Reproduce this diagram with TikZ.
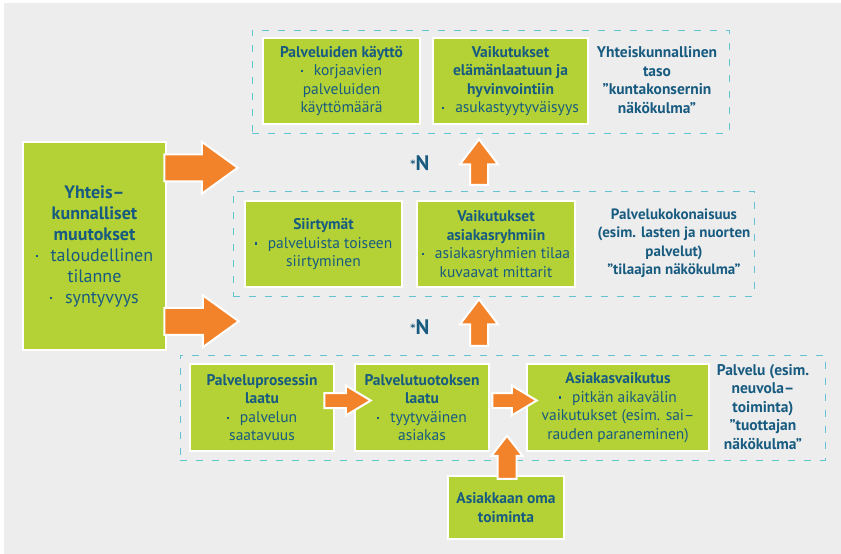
\documentclass[tikz,border=0pt]{standalone}
\usepackage{fontspec}
\setmainfont{PT Sans}
\newfontfamily\symfont{DejaVu Sans}
\usetikzlibrary{calc}

\definecolor{bg}{HTML}{EDEDED}
\definecolor{lime}{HTML}{B4D235}
\definecolor{orng}{HTML}{F3832B}
\definecolor{ink}{HTML}{185B80}
\definecolor{dashcol}{HTML}{62C3D3}

% small square bullet in front of an item
\newcommand\bul{\raisebox{0.22em}{\rule{2.2pt}{2.2pt}}\hspace{0.7em}}
% raised asterisk in front of the aggregation letter
\newcommand\aster{\raisebox{3pt}{\symfont\fontsize{10}{10}\selectfont *}}

% horizontal block arrow: tail point, tip point, shaft half height, head half height, head length
\newcommand\rarrow[5]{%
  \draw[blockarrow] let \p1=#1, \p2=#2 in
    (\x1,\y1+#3pt) -- (\x2-#5pt,\y1+#3pt) -- (\x2-#5pt,\y1+#4pt) -- (\x2,\y1)
    -- (\x2-#5pt,\y1-#4pt) -- (\x2-#5pt,\y1-#3pt) -- (\x1,\y1-#3pt) -- cycle;}

% upward block arrow: tail point, tip point, shaft half width, head half width, head length
\newcommand\uarrow[5]{%
  \draw[blockarrow] let \p1=#1, \p2=#2 in
    (\x1-#3pt,\y1) -- (\x1-#3pt,\y2-#5pt) -- (\x1-#4pt,\y2-#5pt) -- (\x1,\y2)
    -- (\x1+#4pt,\y2-#5pt) -- (\x1+#3pt,\y2-#5pt) -- (\x1+#3pt,\y1) -- cycle;}

\begin{document}
\begin{tikzpicture}[x=1pt,y=-1pt,
  gbox/.style={fill=lime, draw=white, line width=2.5pt, text=ink, align=center,
    inner sep=0pt, font=\fontsize{15.5}{18.5}\selectfont},
  level/.style={draw=dashcol, line width=0.9pt, dash pattern=on 7pt off 9pt, inner sep=0pt},
  note/.style={text=ink, align=center, font=\bfseries\fontsize{15.5}{18.5}\selectfont},
  blockarrow/.style={fill=orng, draw=white, line width=2pt, line join=miter},
  star/.style={text=ink, font=\bfseries\fontsize{21}{21}\selectfont}]

\useasboundingbox (0,0) rectangle (841,554);
\fill[white] (0,0) rectangle (841,554);
\fill[bg] (4,3) rectangle (841,554);

% dashed level frames
\node[level, minimum width=477pt, minimum height=103pt] (top) at (490.5,81.5) {};
\node[level, minimum width=521pt, minimum height=105pt] (mid) at (493.5,243.5) {};
\node[level, minimum width=645pt, minimum height=105pt] (bot) at (502.5,407.5) {};

% left driver box
\node[gbox, minimum width=143pt, minimum height=208pt, font=\fontsize{18}{21}\selectfont] (yk) at (94.5,246)
  {\textbf{Yhteis–}\\\textbf{kunnalliset}\\\textbf{muutokset}\\\bul taloudellinen\\tilanne\\\bul syntyvyys};

% community level
\node[gbox, minimum width=157pt, minimum height=86pt] (pk) at (341.5,81)
  {\textbf{Palveluiden käyttö}\\\bul korjaavien\\palveluiden\\käyttömäärä};
\node[gbox, minimum width=155pt, minimum height=86pt] (vh) at (510.5,81)
  {\textbf{Vaikutukset}\\\textbf{elämänlaatuun ja}\\\textbf{hyvinvointiin}\\\bul asukastyytyväisyys};
\node[note] (t1) at (657,80) {Yhteiskunnallinen\\taso\\”kuntakonsernin\\näkökulma”};

% service entity level
\node[gbox, minimum width=157pt, minimum height=86pt] (st) at (323.5,244)
  {\textbf{Siirtymät}\\\bul palveluista toiseen\\siirtyminen};
\node[gbox, minimum width=158pt, minimum height=86pt] (va) at (496,244)
  {\textbf{Vaikutukset}\\\textbf{asiakasryhmiin}\\\bul asiakasryhmien tilaa\\kuvaavat mittarit};
\node[note, font=\bfseries\fontsize{15}{18.5}\selectfont] (t2) at (674,243)
  {Palvelukokonaisuus\\(esim. lasten ja nuorten\\palvelut)\\”tilaajan näkökulma”};

% service level
\node[gbox, minimum width=144pt, minimum height=87pt] (pp) at (262,407.5)
  {\textbf{Palveluprosessin}\\\textbf{laatu}\\\bul palvelun\\saatavuus};
\node[gbox, minimum width=134pt, minimum height=87pt] (pt) at (422,407.5)
  {\textbf{Palvelutuotoksen}\\\textbf{laatu}\\\bul tyytyväinen\\asiakas};
\node[gbox, minimum width=182pt, minimum height=87pt] (av) at (618,407.5)
  {\textbf{Asiakasvaikutus}\\\bul pitkän aikavälin\\vaikutukset (esim. sai–\\rauden paraneminen)};
\node[note] (t3) at (763,407) {Palvelu (esim.\\neuvola–\\toiminta)\\”tuottajan\\näkökulma”};

\node[gbox, minimum width=116pt, minimum height=63pt] (ao) at (506,507.5)
  {\textbf{Asiakkaan oma}\\\textbf{toiminta}};

% aggregation marks
\node[star] (n1) at (420,163) {\aster N};
\node[star] (n2) at (420,327) {\aster N};

% arrows from the driver box
\rarrow{($(yk.north east)+(-3,27)$)}{($(st.west)+(-6,0)$)}{13.5}{26}{36}
\rarrow{($(yk.south east)+(-3,-30)$)}{($(st.west)+(-5,0)$)}{13.5}{26}{36}

% arrows along the service chain
\rarrow{($(pp.east)+(-11,-7)$)}{($(pt.west)+(17,0)$)}{7.5}{15}{25}
\rarrow{($(pt.east)+(2,-7)$)}{($(av.west)+(11,0)$)}{7.5}{15}{25}

% arrows between levels
\coordinate (aotip) at ($(ao.north)+(1,-39)$);
\uarrow{($(ao.north)+(1,4)$)}{(aotip)}{9.5}{15.5}{20}
\uarrow{($(pt.north)+(57,-17)$)}{($(va.south)+(0,11)$)}{9}{19}{25}
\uarrow{($(va.north)+(-17,-15)$)}{($(vh.south)+(0,14)$)}{9}{19}{25}

\end{tikzpicture}
\end{document}
